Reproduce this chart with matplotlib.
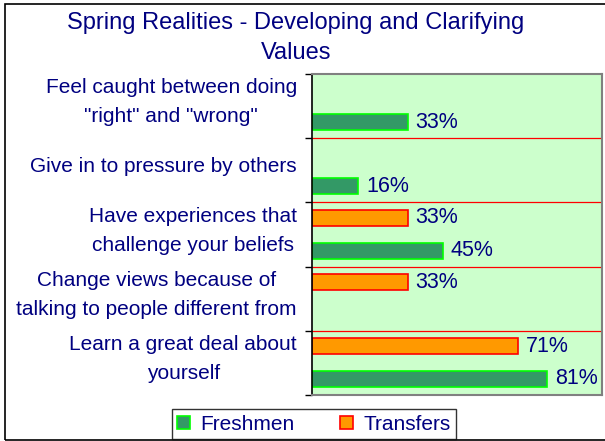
import numpy as np
import matplotlib
matplotlib.use("Agg")
import matplotlib.pyplot as plt
from matplotlib.patches import Rectangle

plt.rcParams["font.family"] = ["Liberation Sans", "DejaVu Sans"]

# category labels, top to bottom
categories = [
    "Feel caught between doing\n\"right\" and \"wrong\"",
    "Give in to pressure by others",
    "Have experiences that\nchallenge your beliefs",
    "Change views because of\ntalking to people different from",
    "Learn a great deal about\nyourself",
]
freshmen = [33, 16, 45, np.nan, 81]
transfers = [np.nan, np.nan, 33, 33, 71]
series_names = ["Freshmen", "Transfers"]

NAVY = "#000080"
W, H = 605, 441

fig = plt.figure(figsize=(W / 100, H / 100), dpi=100)
ax = fig.add_axes([312 / W, 1 - 395 / H, 290 / W, 321 / H])
ax.set_facecolor("#CCFFCC")

y = np.arange(len(categories))
bh = 0.25
fr = ax.barh(y + 0.25, freshmen, height=bh, color="#339966",
             edgecolor="#00FF00", linewidth=1.2, label=series_names[0])
tr = ax.barh(y - 0.26, transfers, height=bh, color="#FF9900",
             edgecolor="#FF0000", linewidth=1.2, label=series_names[1])

for yy, v in zip(y + 0.25, freshmen):
    if not np.isnan(v):
        ax.text(v + 2.7, yy, f"{v:.0f}%", va="center", ha="left",
                fontsize=15.5, color=NAVY)
for yy, v in zip(y - 0.26, transfers):
    if not np.isnan(v):
        ax.text(v + 2.7, yy, f"{v:.0f}%", va="center", ha="left",
                fontsize=15.5, color=NAVY)

ax.set_xlim(0, 100)
ax.set_ylim(len(categories) - 0.5, -0.5)
ax.set_xticks([])

bounds = np.arange(-0.5, len(categories), 1.0)
ax.set_yticks(bounds)
ax.set_yticklabels([])
ax.tick_params(axis="y", length=5, width=1, color="black", direction="out")
for b in bounds[1:-1]:
    ax.axhline(b, color="#FF0000", lw=0.9)

for lbl, yy in zip(categories, y):
    ax.text(-0.052, yy - 0.06, lbl, transform=ax.get_yaxis_transform(),
            ha="right", va="center", multialignment="center",
            fontsize=15, color=NAVY, linespacing=1.65)

for side in ["top", "right", "bottom"]:
    ax.spines[side].set_color("#808080")
    ax.spines[side].set_linewidth(1.5)
ax.spines["left"].set_color("black")
ax.spines["left"].set_linewidth(1.2)

fig.text(296 / W, 1 - 38 / H, "Spring Realities - Developing and Clarifying\nValues",
         ha="center", va="center", fontsize=17, color=NAVY, linespacing=1.5)

leg = fig.legend(handles=[fr, tr], labels=series_names, loc="center",
                 bbox_to_anchor=(314 / W, 1 - 424 / H), ncol=2, fontsize=15,
                 frameon=True, fancybox=False, edgecolor="black",
                 handlelength=0.6, handleheight=0.6, handletextpad=0.5,
                 columnspacing=2.2, borderpad=0.25)
leg.get_frame().set_linewidth(1.0)
for t in leg.get_texts():
    t.set_color(NAVY)

fig.patches.append(Rectangle((5 / W, 1 - 440 / H), 1.0, 436 / H,
                             transform=fig.transFigure, fill=False,
                             edgecolor="black", lw=1.2))

fig.savefig("out.png", dpi=100)
